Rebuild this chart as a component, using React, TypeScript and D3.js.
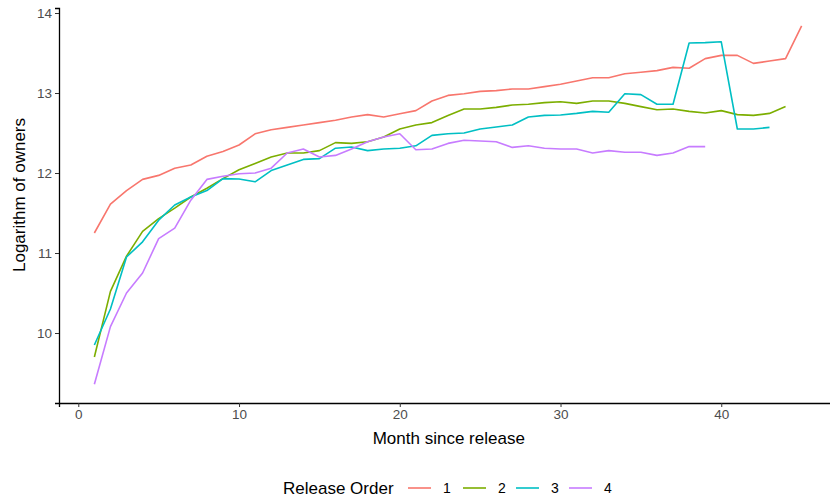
import { useRef, useEffect, useMemo } from 'react';
import * as d3 from 'd3';

const orders = ['1', '2', '3', '4'];
const colors = ['#F8766D', '#7CAE00', '#00BFC4', '#C77CFF'];

const order1 = [
  11.25, 11.61, 11.78, 11.92, 11.97, 12.06, 12.1, 12.21, 12.27, 12.35, 12.49, 12.54, 12.57, 12.6, 12.63,
  12.66, 12.7, 12.73, 12.7, 12.74, 12.78, 12.9, 12.97, 12.99, 13.02, 13.03, 13.05, 13.05, 13.08, 13.11,
  13.15, 13.19, 13.19, 13.24, 13.26, 13.28, 13.32, 13.31, 13.43, 13.47, 13.47, 13.37, 13.4, 13.43, 13.84,
];
const order2 = [
  9.7, 10.52, 10.96, 11.27, 11.43, 11.56, 11.7, 11.81, 11.93, 12.04, 12.12, 12.2, 12.25, 12.25, 12.28,
  12.38, 12.37, 12.39, 12.45, 12.55, 12.6, 12.63, 12.72, 12.8, 12.8, 12.82, 12.85, 12.86, 12.88, 12.89,
  12.87, 12.9, 12.9, 12.87, 12.83, 12.79, 12.8, 12.77, 12.75, 12.78, 12.73, 12.72, 12.745, 12.83,
];
const order3 = [
  9.85, 10.3, 10.95, 11.14, 11.41, 11.6, 11.7, 11.78, 11.93, 11.925, 11.89, 12.03, 12.1, 12.17, 12.18,
  12.31, 12.325, 12.28, 12.3, 12.31, 12.34, 12.47, 12.49, 12.5, 12.55, 12.575, 12.6, 12.7, 12.72, 12.725,
  12.745, 12.77, 12.76, 12.99, 12.98, 12.86, 12.86, 13.625, 13.63, 13.64, 12.55, 12.55, 12.57,
];
const order4 = [
  9.36, 10.08, 10.5, 10.75, 11.18, 11.31, 11.66, 11.92, 11.96, 11.99, 12.0, 12.06, 12.25, 12.3, 12.2,
  12.22, 12.3, 12.39, 12.45, 12.49, 12.29, 12.3, 12.37, 12.41, 12.4, 12.39, 12.32, 12.34, 12.31, 12.3,
  12.3, 12.25, 12.28, 12.26, 12.26, 12.22, 12.25, 12.33, 12.33,
];
const series = [order1, order2, order3, order4];

const xTicks = [0, 10, 20, 30, 40];
const yTicks = [10, 11, 12, 13, 14];

const width = 830;
const height = 499;
const font = '"Liberation Sans", Arial, sans-serif';

export default function App() {
  const gx = useRef<SVGGElement>(null);
  const gy = useRef<SVGGElement>(null);

  const margin = useMemo(() => ({ top: 8, left: 59, bottom: 403 }), []);

  const x = useMemo(() => d3.scaleLinear().domain([-1.2, 47.2]).range([margin.left, 837]), [margin]);
  const y = useMemo(
    () => d3.scaleLinear().domain([9.125, 14.0625]).range([margin.bottom, margin.top]),
    [margin],
  );

  const line = d3
    .line<number>()
    .x((_, i) => x(i + 1))
    .y((d) => y(d));

  useEffect(() => {
    const el = gx.current;
    if (!el) return;
    const g = d3.select(el);
    g.call(d3.axisBottom(x).tickValues(xTicks).tickFormat(d3.format('d')).tickSize(4).tickPadding(2));
    g.select('.domain').attr('stroke', '#000').attr('stroke-width', 1.3);
    g.selectAll('.tick line').attr('stroke', '#333').attr('stroke-width', 1);
    g.selectAll('.tick text').attr('fill', '#4d4d4d').style('font-size', '13.5px').style('font-family', font);
    return () => {
      g.selectAll('*').remove();
    };
  }, [x]);

  useEffect(() => {
    const el = gy.current;
    if (!el) return;
    const g = d3.select(el);
    g.call(d3.axisLeft(y).tickValues(yTicks).tickFormat(d3.format('d')).tickSize(4).tickPadding(3));
    g.select('.domain').attr('stroke', '#000').attr('stroke-width', 1.3);
    g.selectAll('.tick line').attr('stroke', '#333').attr('stroke-width', 1);
    g.selectAll('.tick text').attr('fill', '#4d4d4d').style('font-size', '13.5px').style('font-family', font);
    return () => {
      g.selectAll('*').remove();
    };
  }, [y]);

  const legendKeys = [408, 463, 516, 569];

  return (
    <svg width={width} height={height} style={{ position: 'absolute', left: 0, top: 0, background: '#fff' }}>
      {series.map((s, i) => (
        <path key={orders[i]} d={line(s)!} fill="none" stroke={colors[i]} strokeWidth={1.6} strokeLinejoin="round" />
      ))}
      <g ref={gx} transform={`translate(0,${margin.bottom})`} />
      <g ref={gy} transform={`translate(${margin.left},0)`} />
      <text
        x={(x(0) + x(40)) / 2 + 49}
        y={444}
        textAnchor="middle"
        fontFamily={font}
        fontSize={17}
        fill="#000"
      >
        Month since release
      </text>
      <text
        transform={`translate(25,${(y(14) + y(10)) / 2 + 22}) rotate(-90)`}
        textAnchor="middle"
        fontFamily={font}
        fontSize={17}
        fill="#000"
      >
        Logarithm of owners
      </text>
      <g fontFamily={font} fontSize={17}>
        <text x={283} y={494} fill="#000">
          Release Order
        </text>
        {orders.map((o, i) => (
          <g key={o}>
            <line x1={legendKeys[i]} x2={legendKeys[i] + 23} y1={488} y2={488} stroke={colors[i]} strokeWidth={1.6} />
            <text x={legendKeys[i] + 35} y={493} fontSize={14} fill="#000">
              {o}
            </text>
          </g>
        ))}
      </g>
    </svg>
  );
}
